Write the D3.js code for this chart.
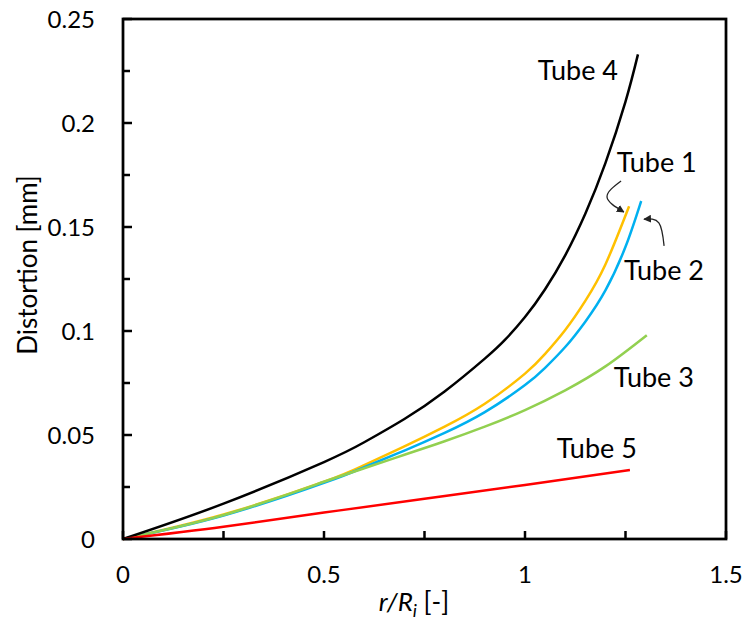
<!DOCTYPE html>
<html>
<head>
<meta charset="utf-8">
<script src="https://cdn.jsdelivr.net/npm/d3@7"></script>
<style>
  body { margin: 0; background: #fff; }
  text { font-family: Lato, "Open Sans", sans-serif; fill: #000; }
</style>
</head>
<body>
<script>
// data, x = r/Ri, y = distortion in mm
var tube1 = [[0,0],[0.25,0.0118],[0.5,0.0275],[0.6,0.0355],[0.7,0.0445],[0.8,0.054],[0.9,0.065],[1.0,0.0795],[1.05,0.089],[1.1,0.1005],[1.15,0.1145],[1.2,0.132],[1.259,0.160]];
var tube2 = [[0,0],[0.25,0.0113],[0.5,0.027],[0.6,0.0345],[0.7,0.0425],[0.8,0.051],[0.9,0.061],[1.0,0.074],[1.05,0.0823],[1.1,0.0923],[1.15,0.1045],[1.2,0.1195],[1.25,0.1405],[1.289,0.1625]];
var tube3 = [[0,0],[0.25,0.0115],[0.5,0.0275],[0.6,0.034],[0.7,0.0405],[0.8,0.047],[0.9,0.054],[1.0,0.062],[1.1,0.0715],[1.2,0.083],[1.303,0.098]];
var tube4 = [[0,0],[0.25,0.017],[0.5,0.037],[0.6,0.0465],[0.7,0.0577],[0.8,0.0709],[0.9,0.0867],[0.95,0.0957],[1.0,0.1067],[1.05,0.1201],[1.1,0.1364],[1.15,0.1564],[1.2,0.1807],[1.25,0.2103],[1.281,0.233]];
var tube5 = [[0,0],[0.25,0.0059],[0.5,0.0127],[0.75,0.0193],[1.0,0.026],[1.261,0.0332]];

var seriesNames = ["Tube 1", "Tube 2", "Tube 3", "Tube 4", "Tube 5"];
var seriesData = [tube1, tube2, tube3, tube4, tube5];
var seriesColors = ["#FFC000", "#00B0F0", "#92D050", "#000000", "#FF0000"];

var xTicks = [0, 0.25, 0.5, 0.75, 1, 1.25, 1.5];
var xLabels = [0, 0.5, 1, 1.5];
var yTicks = d3.range(0, 0.2501, 0.025);
var yLabels = [0, 0.05, 0.1, 0.15, 0.2, 0.25];

// label anchors (data units, text starts here on its baseline)
var labelPos = {
    "Tube 4": [1.032, 0.2207],
    "Tube 1": [1.228, 0.1764],
    "Tube 2": [1.246, 0.1245],
    "Tube 3": [1.221, 0.0731],
    "Tube 5": [1.079, 0.0389]
};
// the two curved arrows pointing at tube 1 and tube 2
var arrows = [
    [[1.239, 0.1721], [1.204, 0.1644], [1.246, 0.1572]],
    [[1.346, 0.1409], [1.333, 0.1520], [1.296, 0.1538]]
];

var width = 748, height = 621;
var mLeft = 123, mRight = 726, mTop = 19, mBottom = 539;

var svg = d3.select("body").append("svg")
    .attr("width", width)
    .attr("height", height);

var x = d3.scaleLinear().domain([0, 1.5]).range([mLeft, mRight]);
var y = d3.scaleLinear().domain([0, 0.25]).range([mBottom, mTop]);

// curves
var line = d3.line()
    .x(function (d) { return x(d[0]); })
    .y(function (d) { return y(d[1]); })
    .curve(d3.curveNatural);

seriesData.forEach(function (s, i) {
    svg.append("path")
        .datum(s)
        .attr("d", line)
        .attr("fill", "none")
        .attr("stroke", seriesColors[i])
        .attr("stroke-width", 2.5);
});

// frame
svg.append("rect")
    .attr("x", mLeft).attr("y", mTop)
    .attr("width", mRight - mLeft).attr("height", mBottom - mTop)
    .attr("fill", "none").attr("stroke", "#000").attr("stroke-width", 2.75);

// inward ticks on left and bottom
svg.append("g").selectAll("line").data(yTicks).enter().append("line")
    .attr("x1", mLeft)
    .attr("x2", function (d) { return mLeft + (Math.round(d * 1000) % 50 === 0 ? 9 : 7); })
    .attr("y1", function (d) { return y(d); })
    .attr("y2", function (d) { return y(d); })
    .attr("stroke", "#000").attr("stroke-width", 2.5);

svg.append("g").selectAll("line").data(xTicks).enter().append("line")
    .attr("x1", function (d) { return x(d); })
    .attr("x2", function (d) { return x(d); })
    .attr("y1", mBottom)
    .attr("y2", mBottom - 8)
    .attr("stroke", "#000").attr("stroke-width", 2.5);

// tick labels
svg.append("g").selectAll("text").data(yLabels).enter().append("text")
    .attr("x", 95)
    .attr("y", function (d) { return y(d); })
    .attr("dy", "0.36em")
    .attr("text-anchor", "end")
    .style("font-size", "24px")
    .text(function (d) { return d; });

svg.append("g").selectAll("text").data(xLabels).enter().append("text")
    .attr("x", function (d) { return x(d); })
    .attr("y", 583)
    .attr("text-anchor", "middle")
    .style("font-size", "24px")
    .text(function (d) { return d; });

// axis titles
svg.append("text")
    .attr("transform", "translate(37,265) rotate(-90)")
    .attr("text-anchor", "middle")
    .style("font-size", "26px")
    .text("Distortion [mm]");

var xt = svg.append("text")
    .attr("x", 414).attr("y", 611)
    .attr("text-anchor", "middle")
    .style("font-size", "26px");
xt.append("tspan").style("font-style", "italic").text("r/R");
xt.append("tspan").style("font-style", "italic").style("font-size", "18px").attr("dy", 6).text("i");
xt.append("tspan").attr("dy", -6).text(" [-]");

// labels
seriesNames.forEach(function (n) {
    svg.append("text")
        .attr("x", x(labelPos[n][0]))
        .attr("y", y(labelPos[n][1]))
        .style("font-size", "27px")
        .text(n);
});

// arrows
svg.append("defs").append("marker")
    .attr("id", "head")
    .attr("viewBox", "0 0 10 10")
    .attr("refX", 9).attr("refY", 5)
    .attr("markerWidth", 6).attr("markerHeight", 6)
    .attr("orient", "auto")
    .append("path").attr("d", "M0,0 L10,5 L0,10 z").attr("fill", "#222");

var arrowLine = d3.line()
    .x(function (d) { return x(d[0]); })
    .y(function (d) { return y(d[1]); })
    .curve(d3.curveNatural);

arrows.forEach(function (a) {
    svg.append("path")
        .datum(a)
        .attr("d", arrowLine)
        .attr("fill", "none")
        .attr("stroke", "#222")
        .attr("stroke-width", 1.3)
        .attr("marker-end", "url(#head)");
});
</script>
</body>
</html>
